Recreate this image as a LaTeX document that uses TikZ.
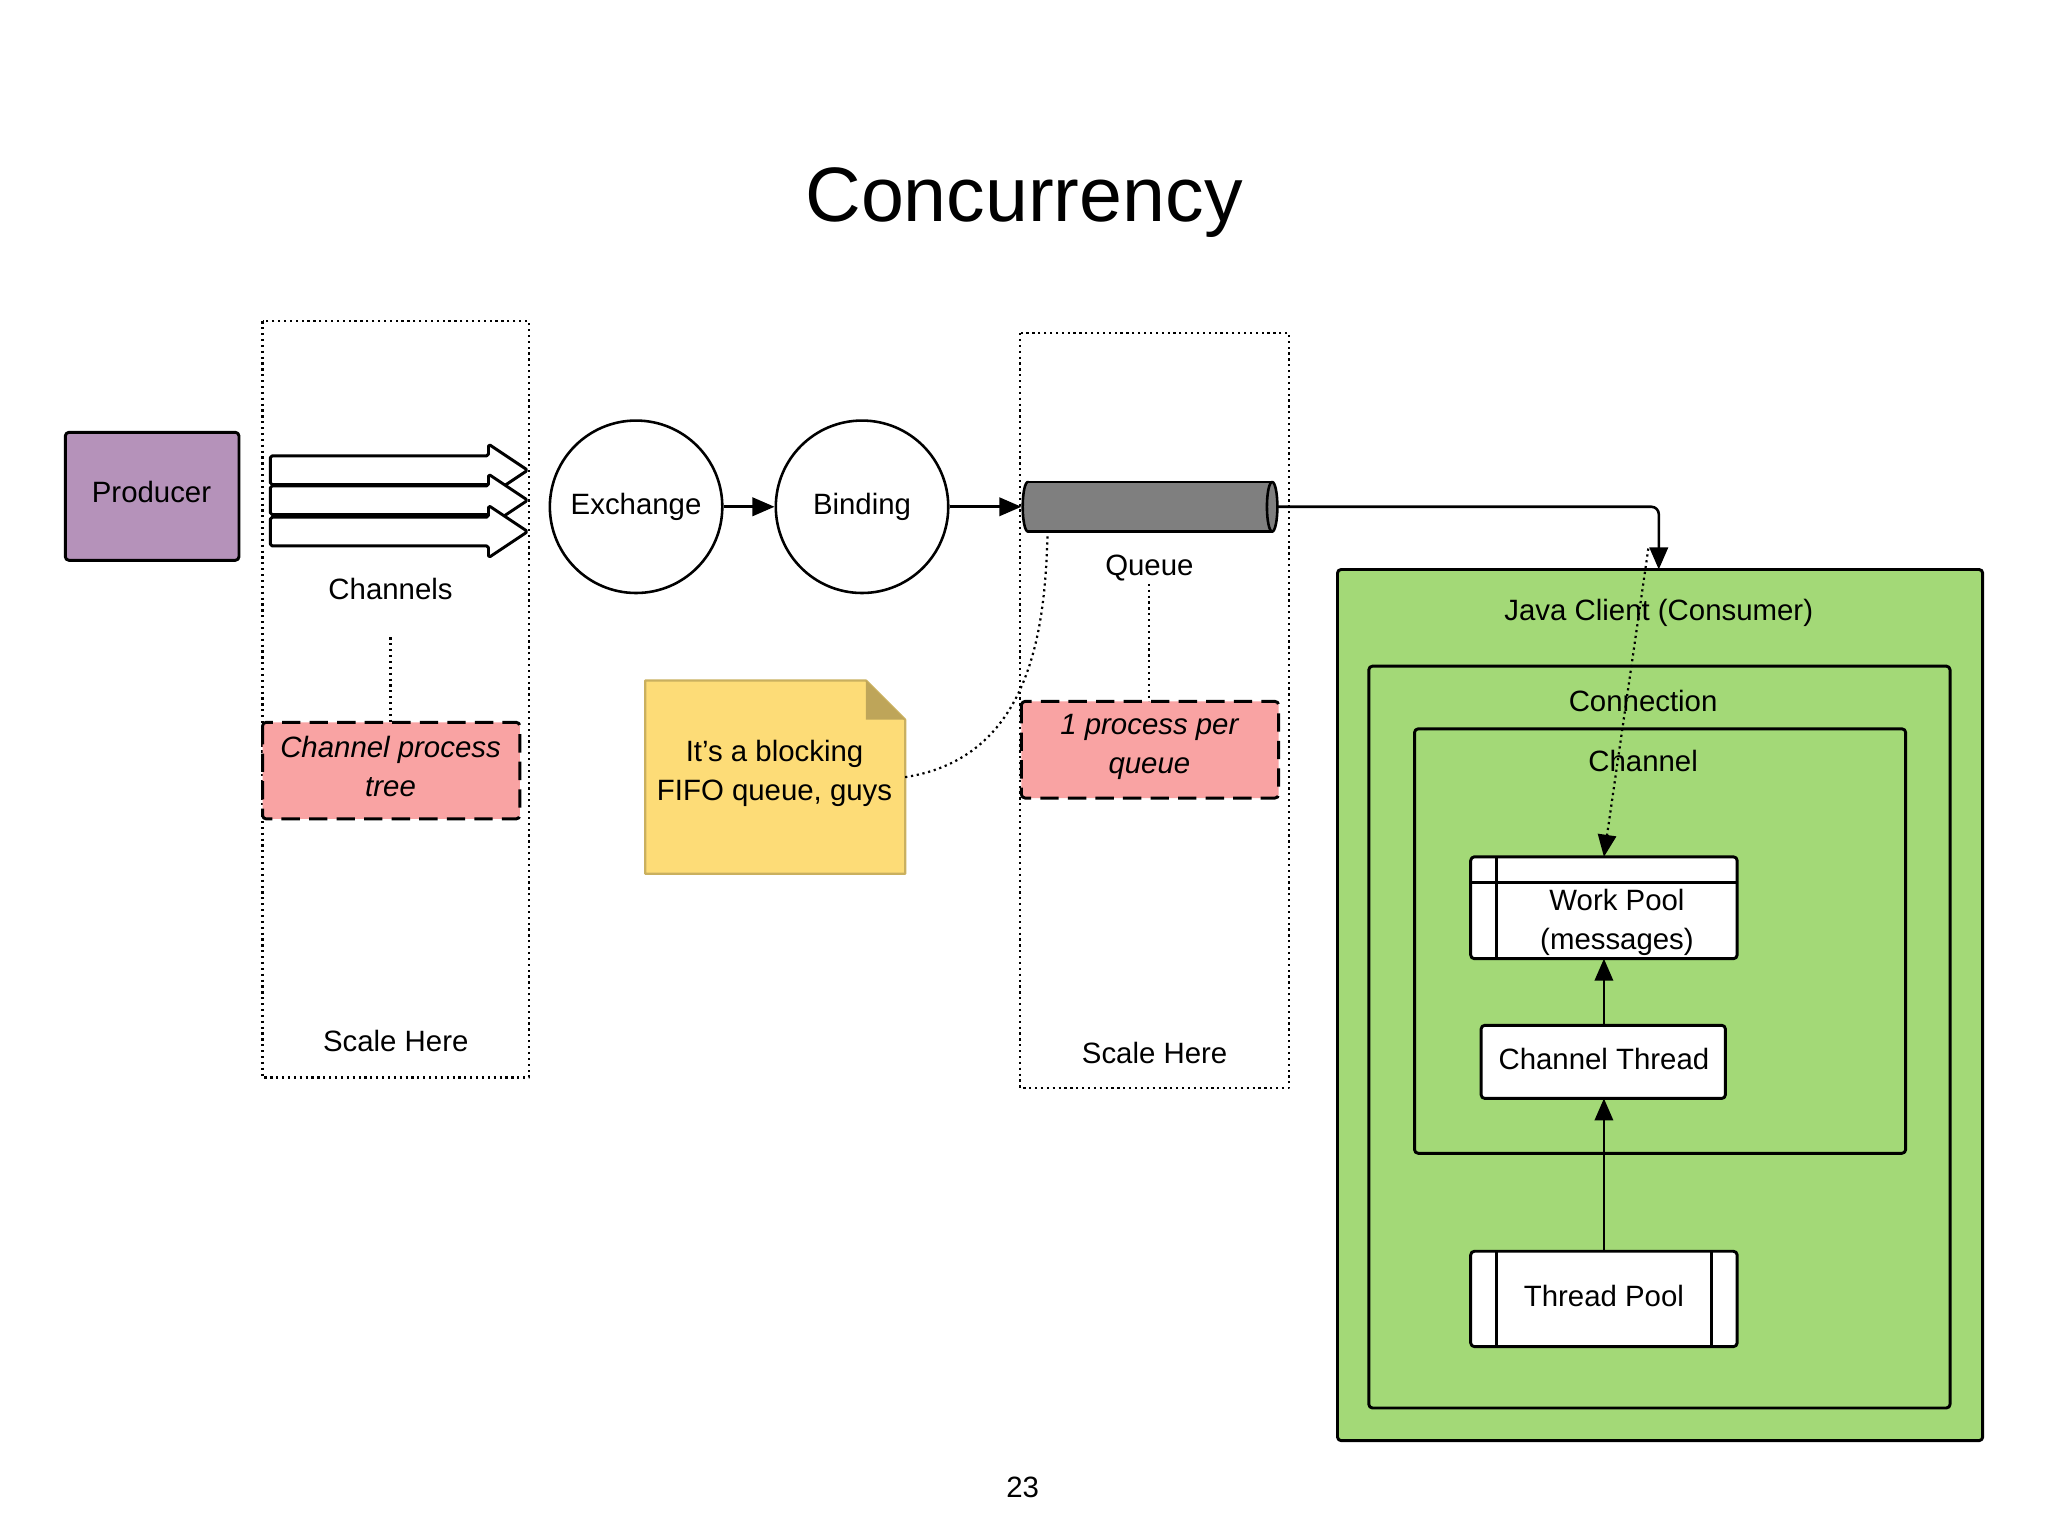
\documentclass[tikz,border=0pt]{standalone}
\usepackage{fontspec}
\setmainfont{Liberation Sans}
\usetikzlibrary{arrows.meta,shapes.geometric,positioning}
\definecolor{prodpurple}{HTML}{B592BA}
\definecolor{notepink}{HTML}{F9A3A3}
\definecolor{noteyellow}{HTML}{FDDC77}
\definecolor{clientgreen}{HTML}{A3D977}
\definecolor{queuegray}{HTML}{7F7F7F}
\begin{document}
\begin{tikzpicture}[
    x=0.025cm,y=-0.025cm,
    >={Triangle[length=12pt,width=10pt]},
    line join=round,
    every node/.style={font=\fontsize{16}{19}\selectfont},
    box/.style={draw,line width=1.6pt,rounded corners=2pt},
    scalebox/.style={draw,line width=1.2pt,dotted},
    process/.style={draw,line width=1.6pt,dashed,dash pattern=on 10pt off 5pt,fill=notepink,rounded corners=2pt},
    stage/.style={circle,draw,line width=1.4pt,minimum size=3.3cm,inner sep=0pt},
    link/.style={->,line width=1.4pt},
    hint/.style={dotted,line width=1.2pt},
    twoline/.style={align=center,font=\fontsize{16}{21}\selectfont}
  ]
    \useasboundingbox (0,0) rectangle (1568,1176);

    \node (title) at (784,155) {\fontsize{42}{48}\selectfont Concurrency};
    \node (page) at (783,1139) {23};

    % producer and channels
    \draw[box,fill=prodpurple] (50,331) rectangle (183,429);
    \node (producer) at (116,377) {Producer};
    \draw[scalebox] (201,246) rectangle (405,825);
    \foreach \y in {360,383,407}
        \draw[line width=1.6pt,fill=white,rounded corners=1pt]
            (207,\y-11) -- (374,\y-11) -- (374,\y-20) -- (404,\y) -- (374,\y+20)
            -- (374,\y+11) -- (207,\y+11) -- cycle;
    \node (channels) at (299,451) {Channels};
    \draw[process] (201,553) rectangle (398,627);
    \node[twoline,font=\fontsize{16}{21}\selectfont\itshape] (chanproc) at (299,587) {Channel process\\tree};
    \draw[hint] (299,488) -- (chanproc.north |- 0,553);
    \node (scaleA) at (303,797) {Scale Here};

    % exchange and binding
    \node[stage] (exchange) at (487,388) {Exchange};
    \node[stage] (binding) at (660,388) {Binding};
    \draw[link] (exchange) -- (binding);

    % queue
    \draw[scalebox] (781,255) rectangle (987,833);
    \filldraw[line width=1.4pt,fill=queuegray] (787,388) ellipse [x radius=0.1cm,y radius=0.475cm];
    \fill[queuegray] (787,369) rectangle (974,407);
    \draw[line width=1.4pt] (787,369) -- (974,369) (787,407) -- (974,407);
    \filldraw[line width=1.4pt,fill=queuegray] (974,388) ellipse [x radius=0.1cm,y radius=0.475cm];
    \coordinate (qin) at (782,388);
    \coordinate (qout) at (978,388);
    \draw[link] (binding) -- (qin);
    \node (queue) at (880,435) {Queue};
    \draw[process] (782,537) rectangle (979,611);
    \node[twoline,font=\fontsize{16}{21}\selectfont\itshape] (perqueue) at (880,572) {1 process per\\queue};
    \draw[hint] (880,447) -- (880,537);
    \node (scaleB) at (884,806) {Scale Here};

    % sticky note
    \draw[line width=1.2pt,draw=noteyellow!80!black,fill=noteyellow]
        (494,521) -- (663,521) -- (693,551) -- (693,669) -- (494,669) -- cycle;
    \fill[noteyellow!75!black] (663,521) -- (693,551) -- (663,551) -- cycle;
    \node[twoline] (note) at (593,592) {It's a blocking\\FIFO queue, guys};
    \draw[hint] (693,595) .. controls (790,580) and (800,480) .. (802,410);

    % consumer
    \draw[line width=1.6pt,fill=clientgreen,rounded corners=2pt] (1024,436) rectangle (1518,1103);
    \node (client) at (1270,469) {Java Client (Consumer)};
    \draw[box,fill=clientgreen] (1048,510) rectangle (1493,1078);
    \node (connection) at (1258,537) {Connection};
    \draw[box,fill=clientgreen] (1083,558) rectangle (1459,883);
    \node (channel) at (1258,583) {Channel};
    \coordinate (clienttop) at (1270,436);
    \draw[link,rounded corners=4pt] (qout) -| (clienttop);

    \draw[box,fill=white] (1126,656) rectangle (1330,734);
    \draw[line width=1.6pt] (1146,656) -- (1146,734) (1126,676) -- (1330,676);
    \node[twoline] (workpool) at (1238,706) {Work Pool\\(messages)};
    \coordinate (wptop) at (1228,656);
    \coordinate (wpbot) at (1228,734);

    \draw[box,fill=white] (1134,785) rectangle (1321,841);
    \node (chthread) at (1228,811) {Channel Thread};

    \draw[box,fill=white] (1126,958) rectangle (1330,1031);
    \draw[line width=1.6pt] (1146,958) -- (1146,1031) (1310,958) -- (1310,1031);
    \node (threadpool) at (1228,992) {Thread Pool};
    \coordinate (tptop) at (1228,958);

    \draw[link] (tptop) -- (chthread.south |- 0,841);
    \draw[link] (chthread.north |- 0,785) -- (wpbot);
    \draw[->,hint] (1262,420) -- (wptop);
\end{tikzpicture}
\end{document}
